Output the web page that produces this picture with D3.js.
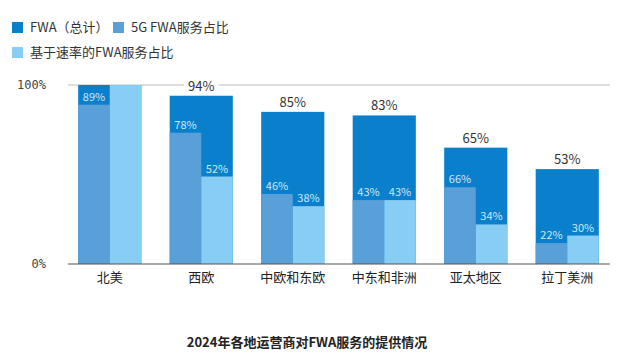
<!DOCTYPE html>
<html><head><meta charset="utf-8">
<script src="https://cdn.jsdelivr.net/npm/d3@7/dist/d3.min.js"></script>
<style>
body{margin:0;background:#fff;}
text{font-family:"Noto Sans CJK SC","Noto Sans",sans-serif;}
</style></head><body>
<svg id="c" width="642" height="361"></svg>
<script>
const categories = ["北美","西欧","中欧和东欧","中东和非洲","亚太地区","拉丁美洲"];
const fwaTotal = [100,94,85,83,65,53];
const share5G = [89,78,46,43,66,22];
const shareSpeed = [100,52,38,43,34,30];
const showSpeedLabel = [false,true,true,true,true,true];
const yTicks = [0,100];
const seriesNames = ["FWA（总计）","5G FWA服务占比","基于速率的FWA服务占比"];
const title = "2024年各地运营商对FWA服务的提供情况";

const colors = ["#0a7fcc","#5aa0d8","#88cdf3"];
const svg = d3.select("#c");
const x = d3.scaleBand().domain(categories).range([64,613]).paddingInner(0.31).paddingOuter(0.155);
const y = d3.scaleLinear().domain([0,100]).range([264,85]);

// gridline at 100%
svg.append("line").attr("x1",68).attr("x2",610).attr("y1",y(100)).attr("y2",y(100))
  .attr("stroke","#bdbdbd").attr("stroke-width",1);

const data = categories.map((c,i)=>({c,t:fwaTotal[i],a:share5G[i],b:shareSpeed[i],sb:showSpeedLabel[i]}));
const g = svg.append("g");
const bw = x.bandwidth();
data.forEach(d=>{
  const x0 = x(d.c);
  g.append("rect").attr("x",x0).attr("width",bw).attr("y",y(d.t)).attr("height",y(0)-y(d.t)).attr("fill",colors[0]);
  const va = d.t*d.a/100, vb = d.t*d.b/100;
  g.append("rect").attr("x",x0).attr("width",bw/2).attr("y",y(va)).attr("height",y(0)-y(va)).attr("fill",colors[1]);
  g.append("rect").attr("x",x0+bw/2).attr("width",bw/2).attr("y",y(vb)).attr("height",y(0)-y(vb)).attr("fill",colors[2]);
  g.append("text").attr("x",x0+bw/4).attr("y",y(va)-4).attr("text-anchor","middle")
    .attr("font-size",11).attr("fill","#cde8f9").text(d.a+"%");
  if(d.sb) g.append("text").attr("x",x0+bw*3/4).attr("y",y(vb)-4).attr("text-anchor","middle")
    .attr("font-size",11).attr("fill","#cde8f9").text(d.b+"%");
  if(d.t<100){
    const tx = g.append("text").attr("x",x0+bw/2).attr("y",y(d.t)-5).attr("text-anchor","middle")
      .attr("font-size",13).attr("fill","#333").text(d.t+"%");
    const bb = tx.node().getBBox();
    g.insert("rect","text:last-child").attr("x",bb.x-4).attr("y",bb.y).attr("width",bb.width+8).attr("height",bb.height).attr("fill","#fff");
  }
});

// baseline
svg.append("line").attr("x1",68).attr("x2",610).attr("y1",y(0)).attr("y2",y(0))
  .attr("stroke","#555").attr("stroke-width",1.2);

// y tick labels
const yAxis = svg.append("g").attr("transform","translate(46,0)")
  .call(d3.axisLeft(y).tickValues(yTicks).tickSize(0).tickPadding(0).tickFormat(d=>d+"%"));
yAxis.select(".domain").remove();
yAxis.selectAll("text").style("font-family","'DejaVu Sans Mono',monospace").attr("font-size",12).attr("fill","#444");

// x labels
const xAxis = svg.append("g").attr("transform",`translate(0,${y(0)})`)
  .call(d3.axisBottom(x).tickSize(0).tickPadding(9));
xAxis.select(".domain").remove();
xAxis.selectAll("text").style("font-family","'Noto Sans CJK SC'").attr("font-size",13).attr("fill","#222");

// legend
const legPos = [[12,22],[113,22],[12,47]];
seriesNames.forEach((n,i)=>{
  const [lx,ly] = legPos[i];
  svg.append("rect").attr("x",lx).attr("y",ly).attr("width",11).attr("height",11).attr("fill",colors[i]);
  svg.append("text").attr("x",lx+18).attr("y",ly+10).attr("font-size",13).attr("fill","#333").text(n);
});

// title
svg.append("text").attr("x",307).attr("y",347).attr("text-anchor","middle")
  .attr("font-size",13).attr("font-weight","bold").attr("fill","#222").text(title);
</script>
</body></html>
